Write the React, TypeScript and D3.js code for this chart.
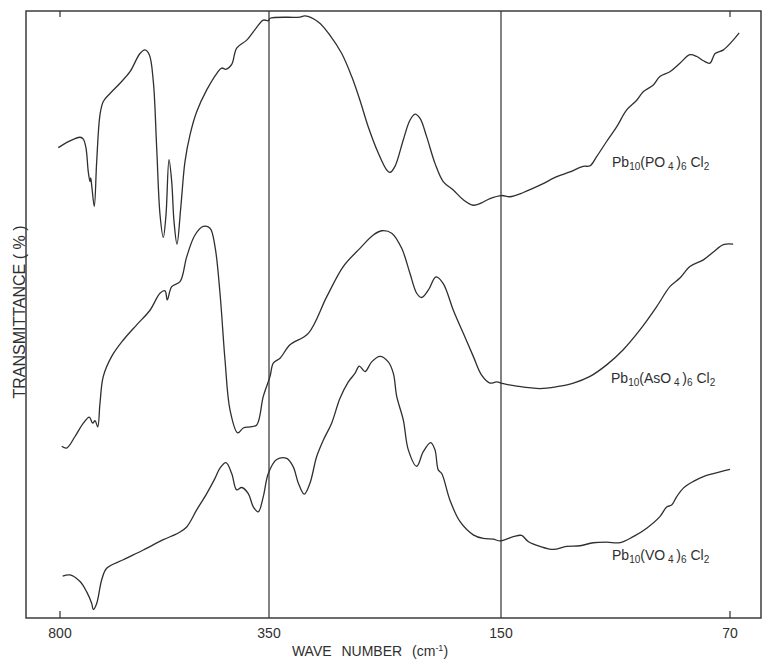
import React from 'react'
import * as d3 from 'd3'

// wave numbers (cm-1) and transmittance (%), curves offset as in the plot
const po4Wave = [803.7, 778.5, 756.9, 749.8, 744.0, 739.1, 735.4, 733.9, 731.1, 726.2, 721.0, 713.9, 706.8, 692.3, 670.8, 649.3, 627.8, 617.0, 607.7, 599.1, 591.8, 584.6, 577.6, 571.8, 565.3, 559.5, 554.5, 548.1, 540.1, 530.9, 520.1, 505.7, 484.1, 462.6, 451.9, 442.6, 430.3, 419.6, 398.0, 376.5, 362.3, 351.5, 349.1, 323.3, 319.0, 307.5, 297.4, 287.3, 278.7, 271.6, 264.4, 255.8, 248.5, 245.7, 241.4, 234.2, 228.5, 224.1, 219.8, 214.1, 206.9, 199.8, 191.1, 182.5, 173.9, 166.7, 159.5, 149.8, 146.9, 142.2, 136.4, 130.5, 125.9, 121.3, 118.9, 116.6, 113.1, 109.6, 106.1, 102.6, 100.3, 96.8, 94.5, 91.0, 87.5, 84.0, 81.6, 79.3, 77.0, 75.2, 72.3, 68.9, 66.8]
const po4Trans = [77.5, 78.6, 79.2, 78.9, 77.4, 73.5, 71.9, 72.5, 70.8, 67.8, 75.2, 82.9, 85.1, 86.4, 88.1, 90.0, 93.0, 93.6, 92.8, 88.4, 77.4, 66.4, 62.7, 66.4, 75.5, 71.9, 65.3, 61.6, 67.5, 75.2, 79.6, 83.4, 87.0, 89.7, 90.6, 90.4, 91.2, 93.9, 95.2, 97.3, 98.5, 98.4, 98.8, 99.0, 99.2, 98.2, 96.0, 93.0, 89.2, 85.3, 80.9, 76.6, 73.8, 73.4, 74.4, 78.8, 82.0, 83.0, 82.3, 79.3, 74.9, 71.9, 70.5, 68.9, 68.0, 68.4, 69.1, 69.6, 69.4, 70.1, 71.3, 72.7, 73.5, 74.4, 74.5, 76.0, 78.5, 80.9, 83.7, 85.3, 86.7, 87.8, 89.2, 90.0, 91.4, 92.8, 92.5, 91.8, 91.4, 93.0, 93.6, 95.2, 96.4]

const aso4Wave = [796.3, 785.6, 767.7, 749.8, 736.9, 729.6, 724.6, 718.8, 713.9, 706.8, 688.7, 663.7, 634.9, 606.2, 584.7, 573.9, 569.0, 559.5, 541.6, 527.2, 509.3, 491.5, 477.0, 466.3, 455.5, 444.7, 434.0, 417.4, 405.3, 390.9, 376.5, 362.3, 349.1, 346.3, 340.5, 331.9, 316.1, 300.3, 286.0, 271.6, 260.1, 252.8, 244.2, 235.6, 228.5, 222.7, 218.4, 212.7, 206.0, 199.8, 191.1, 182.5, 173.9, 166.7, 159.5, 153.7, 149.2, 144.5, 136.4, 130.5, 124.7, 118.9, 113.1, 107.3, 101.4, 95.6, 91.0, 87.5, 84.0, 79.3, 75.8, 72.3, 68.9]
const aso4Trans = [28.3, 28.0, 29.9, 32.1, 33.1, 32.1, 32.5, 31.5, 35.4, 39.8, 43.1, 45.8, 48.3, 50.7, 53.5, 53.9, 52.4, 54.6, 55.4, 59.5, 63.1, 64.5, 64.2, 61.2, 53.5, 42.5, 34.3, 30.5, 31.3, 31.5, 31.8, 36.5, 39.8, 42.0, 42.8, 45.0, 46.9, 52.9, 57.9, 60.9, 63.1, 63.8, 63.4, 60.9, 56.8, 53.5, 52.8, 54.0, 56.2, 55.1, 50.7, 46.9, 43.1, 40.0, 38.7, 38.9, 38.6, 38.2, 37.8, 38.1, 38.7, 39.8, 41.7, 44.2, 47.5, 51.3, 54.6, 56.0, 57.9, 59.0, 60.3, 61.5, 61.6]

const vo4Wave = [794.2, 778.5, 756.9, 742.5, 731.7, 728.3, 721.0, 710.2, 699.5, 663.7, 620.6, 577.6, 545.3, 527.2, 505.7, 484.1, 466.3, 455.5, 442.6, 430.3, 419.6, 408.8, 394.6, 383.8, 373.1, 362.3, 351.5, 343.4, 334.7, 329.1, 324.7, 319.6, 314.7, 308.9, 303.2, 296.0, 288.8, 281.6, 275.9, 272.2, 267.2, 261.5, 254.3, 247.2, 242.8, 239.9, 234.2, 229.9, 222.7, 217.0, 210.6, 206.9, 204.1, 201.1, 194.0, 185.4, 173.9, 165.3, 156.6, 150.9, 145.7, 142.8, 140.5, 136.4, 131.7, 127.1, 122.4, 117.8, 113.1, 108.4, 103.8, 99.1, 94.5, 92.1, 90.4, 88.6, 86.3, 82.8, 79.3, 75.8, 70.0]
const vo4Trans = [6.9, 7.1, 6.0, 4.3, 2.4, 1.4, 2.4, 6.3, 8.2, 9.6, 11.2, 12.9, 14.0, 15.0, 17.8, 20.5, 23.0, 24.7, 25.6, 23.8, 21.1, 21.5, 20.5, 18.3, 17.5, 20.0, 23.8, 26.1, 26.3, 24.9, 22.2, 20.4, 22.2, 26.6, 29.3, 32.1, 36.2, 38.9, 40.3, 41.5, 40.6, 42.2, 43.1, 42.2, 40.3, 36.5, 32.6, 27.7, 25.0, 27.4, 28.9, 27.7, 24.4, 23.8, 19.4, 15.9, 13.7, 13.1, 13.0, 12.7, 13.4, 13.6, 12.6, 11.8, 11.3, 11.8, 11.9, 12.4, 12.5, 12.4, 13.4, 14.8, 16.7, 18.3, 18.6, 20.0, 21.4, 22.5, 23.3, 23.8, 24.5]

const tickLabels = [800, 350, 150, 70]
const gridLines = [350, 150]

const W = 767
const H = 663
const frame = { left: 26, right: 761, top: 11, bottom: 618 }
const ink = '#2f2f2f'
const font = '"Liberation Sans", Arial, sans-serif'

function Formula({ x, y, anion, sub }: { x: number; y: number; anion: string; sub: string }) {
  // Pb10(XO4)6Cl2 with small lowered digits
  const s = { fontSize: 10, baselineShift: '-3px' } as any
  return (
    <text x={x} y={y} fontFamily={font} fontSize={14} fill={ink}>
      Pb<tspan style={s}>10</tspan>({anion}O<tspan style={s}> 4 </tspan>)<tspan style={s}>6</tspan> Cl<tspan style={s}>{sub}</tspan>
    </text>
  )
}

export default function App() {
  // spectrometer scale changes at 350 and 150 cm-1
  const x = d3.scaleLinear().domain([800, 350, 150, 70]).range([60, 269, 501, 730])
  const y = d3.scaleLinear().domain([0, 100]).range([frame.bottom, frame.top])

  const line = d3.line<[number, number]>()
    .x(d => x(d[0]))
    .y(d => y(d[1]))
    .curve(d3.curveCatmullRom.alpha(0.5))

  const series = [
    d3.zip(po4Wave, po4Trans),
    d3.zip(aso4Wave, aso4Trans),
    d3.zip(vo4Wave, vo4Trans)
  ] as [number, number][][]

  return (
    <svg width={W} height={H} style={{ position: 'absolute', left: 0, top: 0, background: '#fff' }}>
      <rect x={frame.left} y={frame.top} width={frame.right - frame.left} height={frame.bottom - frame.top}
        fill="none" stroke={ink} strokeWidth={1.4} />
      {gridLines.map(g => (
        <line key={g} x1={x(g)} x2={x(g)} y1={frame.top} y2={frame.bottom} stroke={ink} strokeWidth={1.2} />
      ))}
      {[800, 70].map(t => (
        <g key={t}>
          <line x1={x(t)} x2={x(t)} y1={frame.bottom} y2={frame.bottom - 7} stroke={ink} strokeWidth={1.2} />
          <line x1={x(t)} x2={x(t)} y1={frame.top} y2={frame.top + 6} stroke={ink} strokeWidth={1.2} />
        </g>
      ))}
      {tickLabels.map(t => (
        <text key={t} x={x(t)} y={638} textAnchor="middle" fontFamily={font} fontSize={14} fill={ink}>{t}</text>
      ))}
      {series.map((s, i) => (
        <path key={i} d={line(s) || ''} fill="none" stroke={ink} strokeWidth={1.3} strokeLinejoin="round" />
      ))}
      <Formula x={612} y={167} anion="P" sub="2" />
      <Formula x={611} y={383} anion="As" sub="2" />
      <Formula x={612} y={560} anion="V" sub="2" />
      <text x={370} y={656} textAnchor="middle" fontFamily={font} fontSize={14} fill={ink} wordSpacing={6}>
        WAVE NUMBER (cm<tspan style={{ fontSize: 9, baselineShift: '5px' } as any}>-1</tspan>)
      </text>
      <text transform="translate(25,312) rotate(-90)" textAnchor="middle" fontFamily={font} fontSize={16} fill={ink}>
        TRANSMITTANCE ( % )
      </text>
    </svg>
  )
}
